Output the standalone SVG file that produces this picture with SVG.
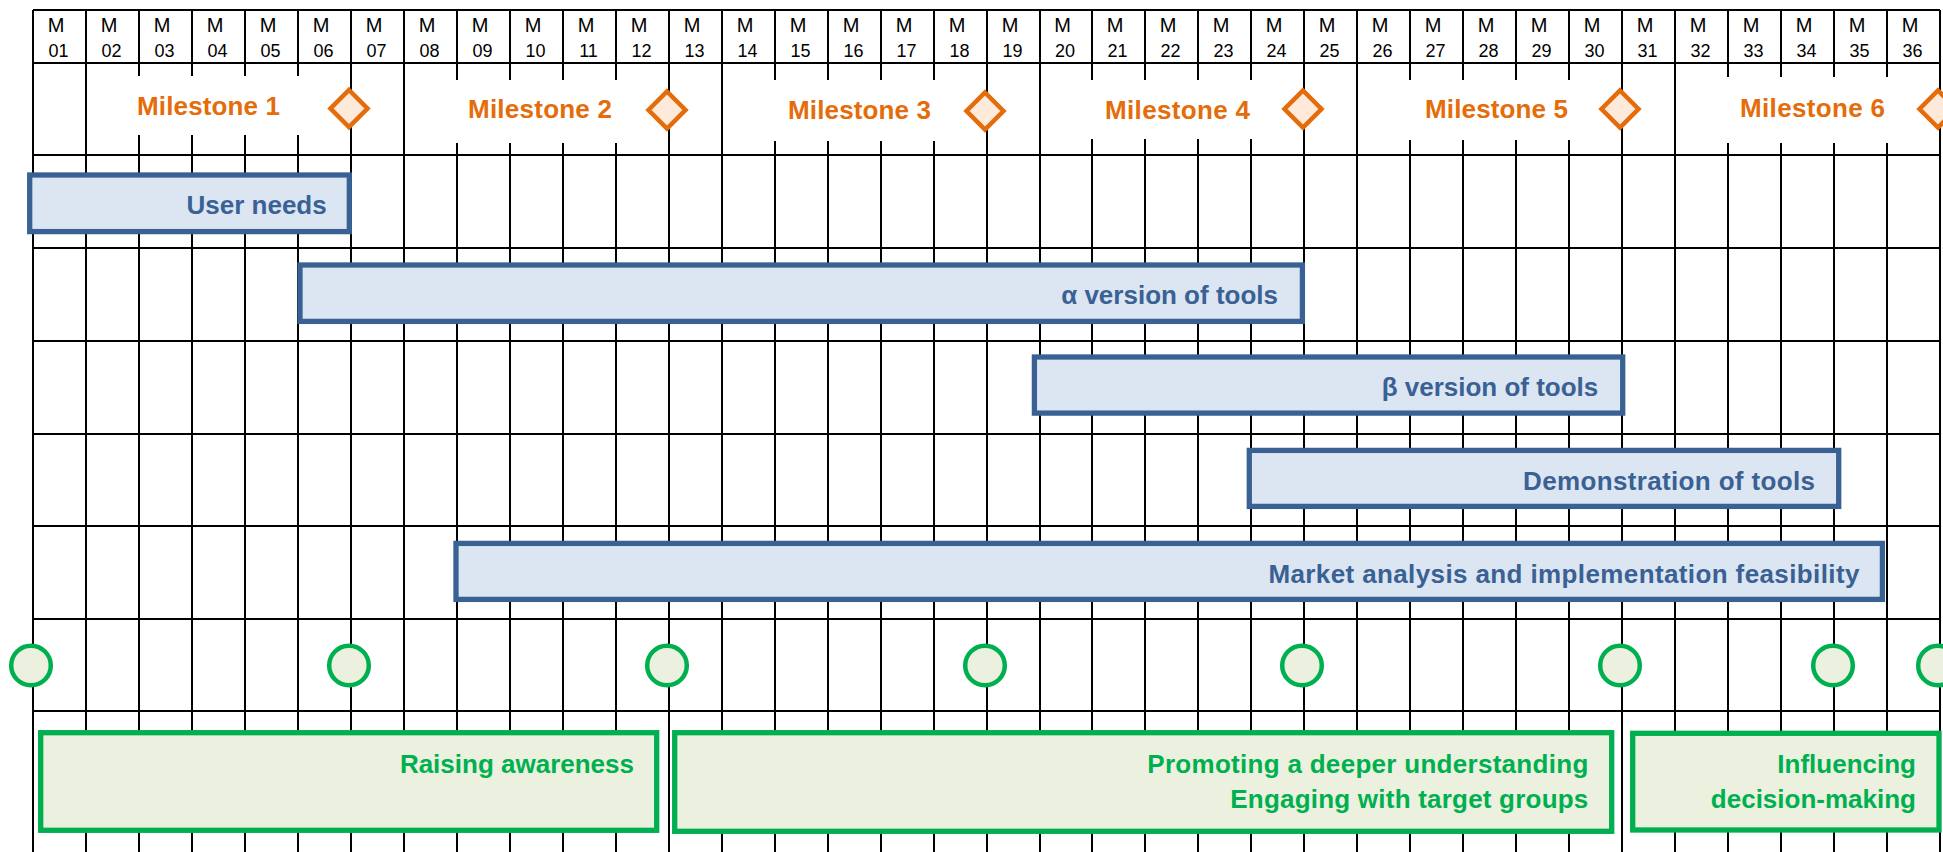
<svg xmlns="http://www.w3.org/2000/svg" width="1943" height="852" viewBox="0 0 1943 852">
<style>
.grid{stroke:#000;stroke-width:2;fill:none}
.hd{font-family:"Liberation Sans",Arial,sans-serif;font-size:20px;fill:#000;text-anchor:middle}
.hn{font-family:"Liberation Sans",Arial,sans-serif;font-size:18px;fill:#000;text-anchor:middle}
.ms{font-family:"Liberation Sans",Arial,sans-serif;font-size:26px;font-weight:bold;fill:#E46C0A}
.dia{fill:#FDEADA;stroke:#E46C0A;stroke-width:4.5;stroke-linejoin:miter}
.bar{fill:#DCE6F2;stroke:#3A6194;stroke-width:5.3}
.bt{font-family:"Liberation Sans",Arial,sans-serif;font-size:26px;font-weight:bold;fill:#3A6194;text-anchor:end}
.cir{fill:#EBF1DE;stroke:#00B050;stroke-width:4.5}
.gbox{fill:#EBF1DE;stroke:#00B050;stroke-width:5.3}
.gt{font-family:"Liberation Sans",Arial,sans-serif;font-size:26px;font-weight:bold;fill:#00B050;text-anchor:end}
</style>
<rect x="0" y="0" width="1943" height="852" fill="#fff"/>
<g id="grid" class="grid">
<path d="M33 10H1940M33 63H1940M33 155H1940M33 248H1940M33 341H1940M33 434H1940M33 526H1940M33 619H1940M33 711H1940"/>
<path d="M33 10V852M86 10V852M351 10V852M404 10V852M669 10V852M722 10V852M987 10V852M1040 10V852M1304 10V852M1357 10V852M1622 10V852M1675 10V852M1940 10V852"/>
<path d="M139 10V76M139 135V852M192 10V76M192 135V852M245 10V76M245 135V852M298 10V76M298 135V852"/>
<path d="M457 10V80M457 143V852M510 10V80M510 143V852M563 10V80M563 143V852M616 10V80M616 143V852"/>
<path d="M775 10V80M775 141V852M828 10V80M828 141V852M881 10V80M881 141V852M934 10V80M934 141V852"/>
<path d="M1092 10V80M1092 139V852M1145 10V80M1145 139V852M1198 10V80M1198 139V852M1251 10V80M1251 139V852"/>
<path d="M1410 10V80M1410 140V852M1463 10V80M1463 140V852M1516 10V80M1516 140V852M1569 10V80M1569 140V852"/>
<path d="M1728 10V77M1728 143V852M1781 10V77M1781 143V852M1834 10V77M1834 143V852M1887 10V77M1887 143V852"/>
</g>
<g id="header">
<text class="hd" x="56" y="32">M</text><text class="hn" x="58.5" y="57">01</text>
<text class="hd" x="109" y="32">M</text><text class="hn" x="111.5" y="57">02</text>
<text class="hd" x="162" y="32">M</text><text class="hn" x="164.5" y="57">03</text>
<text class="hd" x="215" y="32">M</text><text class="hn" x="217.5" y="57">04</text>
<text class="hd" x="268" y="32">M</text><text class="hn" x="270.5" y="57">05</text>
<text class="hd" x="321" y="32">M</text><text class="hn" x="323.5" y="57">06</text>
<text class="hd" x="374" y="32">M</text><text class="hn" x="376.5" y="57">07</text>
<text class="hd" x="427" y="32">M</text><text class="hn" x="429.5" y="57">08</text>
<text class="hd" x="480" y="32">M</text><text class="hn" x="482.5" y="57">09</text>
<text class="hd" x="533" y="32">M</text><text class="hn" x="535.5" y="57">10</text>
<text class="hd" x="586" y="32">M</text><text class="hn" x="588.5" y="57">11</text>
<text class="hd" x="639" y="32">M</text><text class="hn" x="641.5" y="57">12</text>
<text class="hd" x="692" y="32">M</text><text class="hn" x="694.5" y="57">13</text>
<text class="hd" x="745" y="32">M</text><text class="hn" x="747.5" y="57">14</text>
<text class="hd" x="798" y="32">M</text><text class="hn" x="800.5" y="57">15</text>
<text class="hd" x="851" y="32">M</text><text class="hn" x="853.5" y="57">16</text>
<text class="hd" x="904" y="32">M</text><text class="hn" x="906.5" y="57">17</text>
<text class="hd" x="957" y="32">M</text><text class="hn" x="959.5" y="57">18</text>
<text class="hd" x="1010" y="32">M</text><text class="hn" x="1012.5" y="57">19</text>
<text class="hd" x="1062.5" y="32">M</text><text class="hn" x="1065" y="57">20</text>
<text class="hd" x="1115" y="32">M</text><text class="hn" x="1117.5" y="57">21</text>
<text class="hd" x="1168" y="32">M</text><text class="hn" x="1170.5" y="57">22</text>
<text class="hd" x="1221" y="32">M</text><text class="hn" x="1223.5" y="57">23</text>
<text class="hd" x="1274" y="32">M</text><text class="hn" x="1276.5" y="57">24</text>
<text class="hd" x="1327" y="32">M</text><text class="hn" x="1329.5" y="57">25</text>
<text class="hd" x="1380" y="32">M</text><text class="hn" x="1382.5" y="57">26</text>
<text class="hd" x="1433" y="32">M</text><text class="hn" x="1435.5" y="57">27</text>
<text class="hd" x="1486" y="32">M</text><text class="hn" x="1488.5" y="57">28</text>
<text class="hd" x="1539" y="32">M</text><text class="hn" x="1541.5" y="57">29</text>
<text class="hd" x="1592" y="32">M</text><text class="hn" x="1594.5" y="57">30</text>
<text class="hd" x="1645" y="32">M</text><text class="hn" x="1647.5" y="57">31</text>
<text class="hd" x="1698" y="32">M</text><text class="hn" x="1700.5" y="57">32</text>
<text class="hd" x="1751" y="32">M</text><text class="hn" x="1753.5" y="57">33</text>
<text class="hd" x="1804" y="32">M</text><text class="hn" x="1806.5" y="57">34</text>
<text class="hd" x="1857" y="32">M</text><text class="hn" x="1859.5" y="57">35</text>
<text class="hd" x="1910" y="32">M</text><text class="hn" x="1912.5" y="57">36</text>
</g>
<g id="milestone1"><text class="ms" x="137" y="115" textLength="143">Milestone 1</text><path class="dia" d="M349 90L367.5 108.5L349 127L330.5 108.5Z"/></g>
<g id="milestone2"><text class="ms" x="468" y="118" textLength="144">Milestone 2</text><path class="dia" d="M667 91.5L685.5 110L667 128.5L648.5 110Z"/></g>
<g id="milestone3"><text class="ms" x="788" y="119" textLength="143">Milestone 3</text><path class="dia" d="M985 92.5L1003.5 111L985 129.5L966.5 111Z"/></g>
<g id="milestone4"><text class="ms" x="1105" y="118.5" textLength="145">Milestone 4</text><path class="dia" d="M1303 90.5L1321.5 109L1303 127.5L1284.5 109Z"/></g>
<g id="milestone5"><text class="ms" x="1425" y="118.3" textLength="143">Milestone 5</text><path class="dia" d="M1620 90.5L1638.5 109L1620 127.5L1601.5 109Z"/></g>
<g id="milestone6"><text class="ms" x="1740" y="116.7" textLength="145">Milestone 6</text><path class="dia" d="M1938 90.5L1956.5 109L1938 127.5L1919.5 109Z"/></g>
<g id="user-needs"><rect class="bar" x="29.7" y="175" width="319.6" height="56.6"/><text class="bt" x="326.7" y="214">User needs</text></g>
<g id="alpha-version"><rect class="bar" x="300" y="265" width="1002.4" height="56.4"/><text class="bt" x="1278" y="304">α version of tools</text></g>
<g id="beta-version"><rect class="bar" x="1034.4" y="357" width="588.3" height="56.1"/><text class="bt" x="1598.3" y="395.7">β version of tools</text></g>
<g id="demonstration"><rect class="bar" x="1249.3" y="450.4" width="589.4" height="56"/><text class="bt" x="1815" y="490" textLength="292">Demonstration of tools</text></g>
<g id="market-analysis"><rect class="bar" x="456" y="543.4" width="1426.4" height="56"/><text class="bt" x="1859.4" y="582.7" textLength="591">Market analysis and implementation feasibility</text></g>
<g id="checkpoints">
<circle id="c0" class="cir" cx="31" cy="665.5" r="19.8"/>
<circle id="c6" class="cir" cx="349" cy="665.5" r="19.8"/>
<circle id="c12" class="cir" cx="667" cy="665.5" r="19.8"/>
<circle id="c18" class="cir" cx="985" cy="665.5" r="19.8"/>
<circle id="c24" class="cir" cx="1302" cy="665.5" r="19.8"/>
<circle id="c30" class="cir" cx="1620" cy="665.5" r="19.8"/>
<circle id="c34" class="cir" cx="1833" cy="665.5" r="19.8"/>
<circle id="c36" class="cir" cx="1938" cy="665.5" r="19.8"/>
</g>
<g id="raising-awareness"><rect class="gbox" x="40.7" y="732.7" width="616" height="97.6"/><text class="gt" x="634" y="772.7">Raising awareness</text></g>
<g id="deeper-understanding"><rect class="gbox" x="674.7" y="732.7" width="937" height="98.6"/><text class="gt" x="1588.3" y="772.7" textLength="441">Promoting a deeper understanding</text><text class="gt" x="1588.3" y="808.3" textLength="358">Engaging with target groups</text></g>
<g id="influencing"><rect class="gbox" x="1632.7" y="733.3" width="306.3" height="96.7"/><text class="gt" x="1916" y="773.3">Influencing</text><text class="gt" x="1916" y="808">decision-making</text></g>
</svg>
